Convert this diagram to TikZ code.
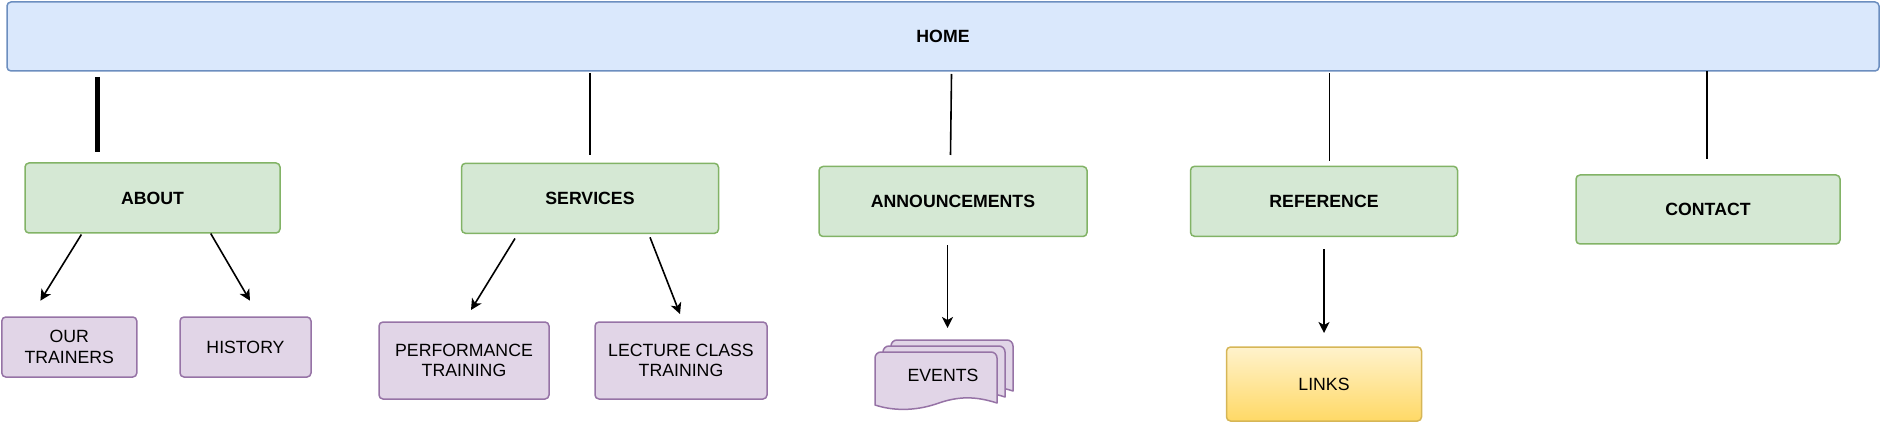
\documentclass[tikz,border=0pt]{standalone}
\usepackage{fontspec}
\setmainfont{Liberation Sans}
\usetikzlibrary{arrows.meta}
\definecolor{homefill}{HTML}{DAE8FC}
\definecolor{homedraw}{HTML}{6C8EBF}
\definecolor{secfill}{HTML}{D5E8D4}
\definecolor{secdraw}{HTML}{82B366}
\definecolor{subfill}{HTML}{E1D5E7}
\definecolor{subdraw}{HTML}{9673A6}
\definecolor{linktop}{HTML}{FFF2CC}
\definecolor{linkbot}{HTML}{FFD966}
\definecolor{linkdraw}{HTML}{D6B656}
\tikzset{
  basebox/.style={rounded corners=4pt, line width=1.5pt, inner sep=0pt, align=center,
    font=\fontsize{17.7}{20.7}\selectfont},
  homebox/.style={basebox, fill=homefill, draw=homedraw, font=\fontsize{17.7}{20.7}\selectfont\bfseries},
  secbox/.style={basebox, fill=secfill, draw=secdraw, font=\fontsize{17.7}{20.7}\selectfont\bfseries},
  subbox/.style={basebox, fill=subfill, draw=subdraw},
  linkbox/.style={basebox, top color=linktop, bottom color=linkbot, draw=linkdraw},
  page/.style={fill=subfill, draw=subdraw, line width=1.5pt, line join=round},
  link/.style={line width=1.6pt, black},
  arr/.style={link, -{Stealth[length=11pt,width=11pt,inset=3pt]}},
}
\newcommand{\evpage}{%
  \filldraw[page] (875,405) [rounded corners=6pt] -- (875,352) -- (997,352) [sharp corners] -- (997,403)
    .. controls (975,396) and (958,396) .. (936,404)
    .. controls (915,411) and (893,411) .. (875,405) -- cycle;}
\begin{document}
\begin{tikzpicture}[x=1pt,y=-1pt]
\useasboundingbox (0,0) rectangle (1882,422);

% nodes
\node[homebox, minimum width=1872pt, minimum height=69pt] (home) at (943,36.5) {HOME};
\node[secbox, minimum width=255pt, minimum height=70pt] (about) at (152.5,198) {ABOUT};
\node[secbox, minimum width=257pt, minimum height=70pt] (services) at (590,198.3) {SERVICES};
\node[secbox, minimum width=268pt, minimum height=70pt] (announce) at (953,201.5) {ANNOUNCEMENTS};
\node[secbox, minimum width=267pt, minimum height=70pt] (reference) at (1324,201.3) {REFERENCE};
\node[secbox, minimum width=264pt, minimum height=69pt] (contact) at (1708,209.5) {CONTACT};

\node[subbox, minimum width=135pt, minimum height=60pt] (trainers) at (69.3,347) {OUR\\TRAINERS};
\node[subbox, minimum width=131pt, minimum height=60pt] (history) at (245.5,347) {HISTORY};
\node[subbox, minimum width=170pt, minimum height=77pt] (perf) at (464,360.5) {PERFORMANCE\\TRAINING};
\node[subbox, minimum width=172pt, minimum height=77pt] (lecture) at (681,360.5) {LECTURE CLASS\\TRAINING};
\node[linkbox, minimum width=195pt, minimum height=74pt] (links) at (1324,384) {LINKS};

% events: stacked document shape
\begin{scope}[shift={(16,-12)}]\evpage\end{scope}
\begin{scope}[shift={(8,-6)}]\evpage\end{scope}
\evpage
\node[font=\fontsize{17.7}{20.7}\selectfont, inner sep=0pt] (events) at (943,375) {EVENTS};

% connector end points
\coordinate (aboutA) at (97.5,77);    \coordinate (aboutB) at (97.5,152);
\coordinate (servA) at (590,73);      \coordinate (servB) at (590,155);
\coordinate (annA) at (951.5,74);     \coordinate (annB) at (950.5,155);
\coordinate (refA) at (1329.3,73);    \coordinate (refB) at (1329.3,161.5);
\coordinate (conA) at (1707,71);      \coordinate (conB) at (1707,159);

\coordinate (abT1) at (81.4,234.5);   \coordinate (abH1) at (40.4,300.7);
\coordinate (abT2) at (210.7,233.5);  \coordinate (abH2) at (250,300.7);
\coordinate (svT1) at (515,238.5);    \coordinate (svH1) at (471,310);
\coordinate (svT2) at (650,237.3);    \coordinate (svH2) at (680,314);
\coordinate (anT) at (947.5,245);     \coordinate (anH) at (947.5,328);
\coordinate (rfT) at (1324,249);      \coordinate (rfH) at (1324,333);

% lines from HOME
\draw[link, line width=4.3pt] (aboutA) -- (aboutB);
\draw[link] (servA) -- (servB);
\draw[link] (annA) -- (annB);
\draw[link] (refA) -- (refB);
\draw[link] (conA) -- (conB);

% arrows
\draw[arr] (abT1) -- (abH1);
\draw[arr] (abT2) -- (abH2);
\draw[arr] (svT1) -- (svH1);
\draw[arr] (svT2) -- (svH2);
\draw[arr] (anT) -- (anH);
\draw[arr] (rfT) -- (rfH);
\end{tikzpicture}
\end{document}
